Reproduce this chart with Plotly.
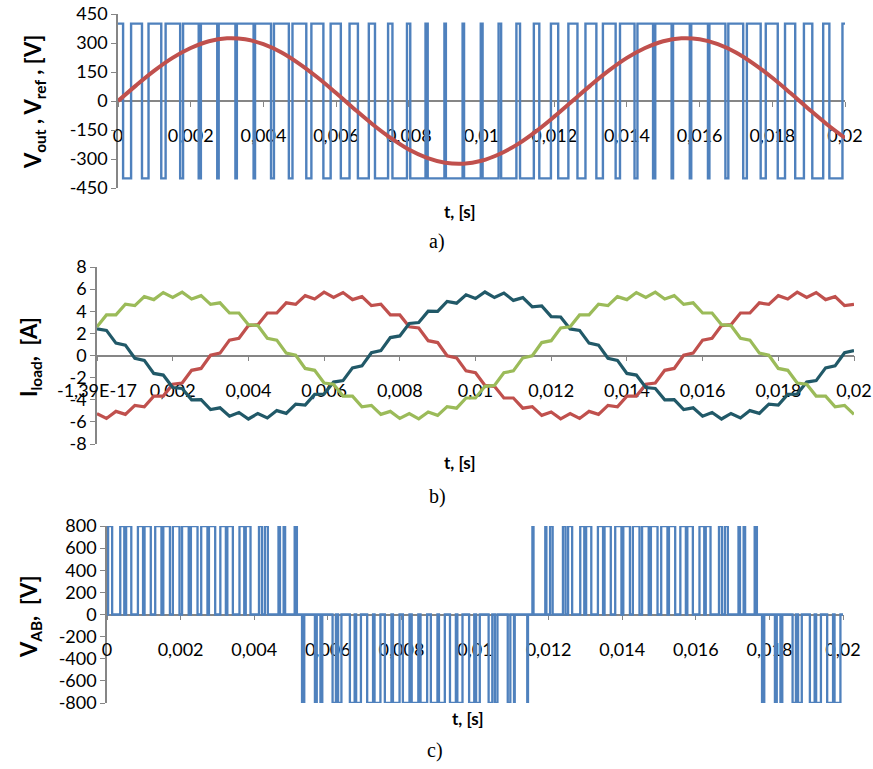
import plotly.graph_objects as go

W, H = 873, 769

# ---------------- data (times in ms) ----------------
x_tick_vals_s = [0, 0.002, 0.004, 0.006, 0.008, 0.01, 0.012, 0.014, 0.016, 0.018, 0.02]
x_tick_text_a = ["0", "0,002", "0,004", "0,006", "0,008", "0,01", "0,012", "0,014", "0,016", "0,018", "0,02"]
x_tick_text_b = ["-1,39E-17", "0,002", "0,004", "0,006", "0,008", "0,01", "0,012", "0,014", "0,016", "0,018", "0,02"]

ya_ticks = [450, 300, 150, 0, -150, -300, -450]
yb_ticks = [8, 6, 4, 2, 0, -2, -4, -6, -8]
yc_ticks = [800, 600, 400, 200, 0, -200, -400, -600, -800]

# (a) reference sine
t_ref_ms = [0, 0.5, 1, 1.5, 2, 2.5, 3, 3.5, 4, 4.5, 5, 5.5, 6, 6.5, 7, 7.5, 8, 8.5, 9, 9.5,
            10, 10.5, 11, 11.5, 12, 12.5, 13, 13.5, 14, 14.5, 15, 15.5, 16, 16.5, 17, 17.5,
            18, 18.5, 19, 19.5, 20]
vref_V = [0, 81, 157, 223, 274, 309, 324, 319, 294, 251, 191, 120, 41, -41, -120, -191, -251,
          -294, -319, -324, -309, -274, -223, -157, -81, 0, 81, 157, 223, 274, 309, 324, 319,
          294, 251, 191, 120, 41, -41, -120, -191]

# (a) PWM output: +400 V except during these low (-400 V) intervals
vout_high = 400
vout_low = -400
vout_low_start_ms = [0.14, 0.66, 1.19, 1.71, 2.22, 2.73, 3.23, 3.73, 4.21, 4.70, 5.18, 5.65, 6.13,
                     6.60, 7.07, 7.55, 8.04, 8.52, 9.02, 9.52, 10.03, 10.54, 11.06, 11.59, 12.11,
                     12.64, 13.16, 13.69, 14.21, 14.72, 15.23, 15.73, 16.23, 16.71, 17.20, 17.68,
                     18.15, 18.63, 19.10, 19.57]
vout_low_end_ms = [0.36, 0.84, 1.31, 1.79, 2.28, 2.77, 3.27, 3.77, 4.29, 4.80, 5.32, 5.85, 6.37,
                   6.90, 7.43, 7.95, 8.46, 8.98, 9.48, 9.98, 10.47, 10.96, 11.44, 11.91, 12.39,
                   12.86, 13.34, 13.81, 14.29, 14.78, 15.27, 15.77, 16.27, 16.79, 17.30, 17.82,
                   18.35, 18.87, 19.40, 19.93]

# (b) load currents
t_cur_ms = [0, 0.25, 0.5, 0.75, 1, 1.25, 1.5, 1.75, 2, 2.25, 2.5, 2.75, 3, 3.25, 3.5, 3.75, 4,
            4.25, 4.5, 4.75, 5, 5.25, 5.5, 5.75, 6, 6.25, 6.5, 6.75, 7, 7.25, 7.5, 7.75, 8, 8.25,
            8.5, 8.75, 9, 9.25, 9.5, 9.75, 10, 10.25, 10.5, 10.75, 11, 11.25, 11.5, 11.75, 12,
            12.25, 12.5, 12.75, 13, 13.25, 13.5, 13.75, 14, 14.25, 14.5, 14.75, 15, 15.25, 15.5,
            15.75, 16, 16.25, 16.5, 16.75, 17, 17.25, 17.5, 17.75, 18, 18.25, 18.5, 18.75, 19,
            19.25, 19.5, 19.75, 20]
i_teal = [2.40, 2.27, 1.12, 0.94, -0.25, -0.44, -1.62, -1.77, -2.90, -2.98,
          -4.01, -3.99, -4.89, -4.73, -5.48, -5.15, -5.74, -5.24, -5.65, -4.98,
          -5.23, -4.39, -4.49, -3.51, -3.48, -2.40, -2.27, -1.12, -0.94, 0.25,
          0.44, 1.62, 1.77, 2.90, 2.98, 4.01, 3.99, 4.89, 4.73, 5.48,
          5.15, 5.74, 5.24, 5.65, 4.98, 5.23, 4.39, 4.49, 3.51, 3.48,
          2.40, 2.27, 1.12, 0.94, -0.25, -0.44, -1.62, -1.77, -2.90, -2.98,
          -4.01, -3.99, -4.89, -4.73, -5.48, -5.15, -5.74, -5.24, -5.65, -4.98,
          -5.23, -4.39, -4.49, -3.51, -3.48, -2.40, -2.27, -1.12, -0.94, 0.25,
          0.44]
i_green = [2.60, 3.67, 3.68, 4.63, 4.51, 5.32, 5.05, 5.69, 5.25, 5.72,
           5.10, 5.41, 4.62, 4.76, 3.84, 3.84, 2.79, 2.70, 1.56, 1.39,
           0.21, 0.02, -1.17, -1.34, -2.49, -2.60, -3.67, -3.68, -4.63, -4.51,
           -5.32, -5.05, -5.69, -5.25, -5.72, -5.10, -5.41, -4.62, -4.76, -3.84,
           -3.84, -2.79, -2.70, -1.56, -1.39, -0.21, -0.02, 1.17, 1.34, 2.49,
           2.60, 3.67, 3.68, 4.63, 4.51, 5.32, 5.05, 5.69, 5.25, 5.72,
           5.10, 5.41, 4.62, 4.76, 3.84, 3.84, 2.79, 2.70, 1.56, 1.39,
           0.21, 0.02, -1.17, -1.34, -2.49, -2.60, -3.67, -3.68, -4.63, -4.51,
           -5.32]
i_red = [-5.25, -5.69, -5.05, -5.32, -4.51, -4.63, -3.68, -3.67, -2.60, -2.49,
         -1.34, -1.17, 0.02, 0.21, 1.39, 1.56, 2.70, 2.79, 3.84, 3.84,
         4.76, 4.62, 5.41, 5.10, 5.72, 5.25, 5.69, 5.05, 5.32, 4.51,
         4.63, 3.68, 3.67, 2.60, 2.49, 1.34, 1.17, -0.02, -0.21, -1.39,
         -1.56, -2.70, -2.79, -3.84, -3.84, -4.76, -4.62, -5.41, -5.10, -5.72,
         -5.25, -5.69, -5.05, -5.32, -4.51, -4.63, -3.68, -3.67, -2.60, -2.49,
         -1.34, -1.17, 0.02, 0.21, 1.39, 1.56, 2.70, 2.79, 3.84, 3.84,
         4.76, 4.62, 5.41, 5.10, 5.72, 5.25, 5.69, 5.05, 5.32, 4.51,
         4.63]

# (c) line-to-line voltage pulses (start, end, level); 0 V elsewhere
vab_start_ms = [0.03, 0.36, 0.52, 0.84, 1.02, 1.31, 1.53, 1.79, 2.04, 2.28, 2.56, 2.77, 3.08, 3.27,
                3.60, 3.77, 4.13, 4.29, 4.66, 4.80, 5.10, 5.30, 5.65, 5.80, 6.13, 6.28, 6.60, 6.77,
                7.07, 7.27, 7.55, 7.77, 8.04, 8.28, 8.52, 8.80, 9.02, 9.32, 9.52, 9.84, 10.03,
                10.37, 10.54, 10.89, 11.06, 11.42, 11.56, 11.91, 12.04, 12.39, 12.53, 12.86,
                13.02, 13.34, 13.52, 13.81, 14.03, 14.29, 14.54, 14.78, 15.06, 15.27, 15.58,
                15.77, 16.10, 16.27, 16.63, 16.79, 17.16, 17.30, 17.60, 17.80, 18.15, 18.30,
                18.63, 18.78, 19.10, 19.27, 19.57, 19.77]
vab_end_ms = [0.14, 0.47, 0.66, 0.98, 1.19, 1.48, 1.71, 1.97, 2.22, 2.46, 2.73, 2.94, 3.23, 3.42,
              3.73, 3.90, 4.21, 4.37, 4.70, 4.84, 5.16, 5.36, 5.70, 5.85, 6.22, 6.37, 6.73, 6.90,
              7.23, 7.43, 7.73, 7.95, 8.22, 8.46, 8.70, 8.98, 9.18, 9.48, 9.66, 9.98, 10.13,
              10.47, 10.61, 10.96, 11.08, 11.44, 11.59, 11.94, 12.11, 12.46, 12.64, 12.97,
              13.16, 13.48, 13.69, 13.98, 14.21, 14.47, 14.72, 14.96, 15.23, 15.44, 15.73,
              15.92, 16.23, 16.40, 16.71, 16.87, 17.20, 17.34, 17.66, 17.86, 18.20, 18.35,
              18.72, 18.88, 19.23, 19.40, 19.73, 19.93]
vab_level_V = [800] * 21 + [-800] * 25 + [800] * 25 + [-800] * 9

T_END_MS = 20

# ---------------- helpers ----------------
def steps(starts, ends, levels, base):
    xs, ys = [0], [base]
    for s, e, lv in zip(starts, ends, levels):
        xs += [s, s, e, e]
        ys += [base, lv, lv, base]
    xs.append(T_END_MS)
    ys.append(base)
    return [v / 1000 for v in xs], ys


def ms(lst):
    return [v / 1000 for v in lst]


def fx(px):
    return px / W


def fy(py):
    return 1 - py / H


BLUE = "#4F81BD"
RED = "#C0504D"
GREEN = "#9BBB59"
TEAL = "#215968"
AXIS = "#868686"
TICKFONT = dict(family="Lato, Open Sans, sans-serif", size=18, color="black")

fig = go.Figure()

# panel (a)
vx, vy = steps(vout_low_start_ms, vout_low_end_ms, [vout_low] * len(vout_low_start_ms), vout_high)
fig.add_trace(go.Scatter(x=vx, y=vy, mode="lines", line=dict(color=BLUE, width=2.4),
                         xaxis="x", yaxis="y", hoverinfo="skip"))
fig.add_trace(go.Scatter(x=ms(t_ref_ms), y=vref_V, mode="lines",
                         line=dict(color=RED, width=4, shape="spline"), xaxis="x", yaxis="y"))

# panel (b)
fig.add_trace(go.Scatter(x=ms(t_cur_ms), y=i_red, mode="lines", line=dict(color=RED, width=3.2),
                         xaxis="x2", yaxis="y2"))
fig.add_trace(go.Scatter(x=ms(t_cur_ms), y=i_teal, mode="lines", line=dict(color=TEAL, width=3.2),
                         xaxis="x2", yaxis="y2"))
fig.add_trace(go.Scatter(x=ms(t_cur_ms), y=i_green, mode="lines", line=dict(color=GREEN, width=3.2),
                         xaxis="x2", yaxis="y2"))

# panel (c)
cx, cy = steps(vab_start_ms, vab_end_ms, vab_level_V, 0)
fig.add_trace(go.Scatter(x=cx, y=cy, mode="lines", line=dict(color=BLUE, width=2.3),
                         xaxis="x3", yaxis="y3", hoverinfo="skip"))

panels = [
    dict(x0=118, x1=845, y0=14, y1=188, yr=(-450, 450), yt=ya_ticks, xt=x_tick_text_a),
    dict(x0=97, x1=854, y0=267, y1=444, yr=(-8, 8), yt=yb_ticks, xt=x_tick_text_b),
    dict(x0=107, x1=843, y0=526, y1=703, yr=(-800, 800), yt=yc_ticks, xt=x_tick_text_a),
]

layout = {}
for i, p in enumerate(panels):
    sfx = "" if i == 0 else str(i + 1)
    y_zero_px = p["y0"] + (p["yr"][1] - 0) / (p["yr"][1] - p["yr"][0]) * (p["y1"] - p["y0"])
    layout["xaxis" + sfx] = dict(
        domain=[fx(p["x0"]), fx(p["x1"])], range=[0, 0.02], anchor="free",
        position=fy(y_zero_px), showline=True, linecolor=AXIS, linewidth=1.5,
        ticks="outside", ticklen=5, tickwidth=1.2, tickcolor=AXIS,
        tickvals=x_tick_vals_s, ticktext=p["xt"], tickfont=TICKFONT, automargin=False,
        ticklabelstandoff=14, showgrid=False, zeroline=False, layer="below traces",
    )
    layout["yaxis" + sfx] = dict(
        domain=[fy(p["y1"]), fy(p["y0"])], range=list(p["yr"]), anchor="x" + sfx,
        showline=True, linecolor=AXIS, linewidth=1.5, ticks="outside", ticklen=5,
        tickwidth=1.2, tickcolor=AXIS, tickvals=p["yt"], ticktext=[str(v) for v in p["yt"]],
        tickfont=TICKFONT, showgrid=False, zeroline=False, layer="below traces", automargin=False,
    )

ann_font_b = dict(family="Lato, Open Sans, sans-serif", size=22, color="black")
ann_t = dict(family="Lato, Open Sans, sans-serif", size=17, color="black")
ser = dict(family="Liberation Serif, Times New Roman, serif", size=20, color="black")
annotations = [
    dict(text="<b>V<sub>out</sub> , V<sub>ref</sub> , [V]</b>", x=fx(34), y=fy(102), textangle=-90, font=ann_font_b),
    dict(text="<b>I<sub>load</sub>,  [A]</b>", x=fx(30), y=fy(357), textangle=-90, font=ann_font_b),
    dict(text="<b>V<sub>AB</sub>,  [V]</b>", x=fx(30), y=fy(617), textangle=-90, font=ann_font_b),
    dict(text="<b>t, [s]</b>", x=fx(460), y=fy(211), font=ann_t),
    dict(text="<b>t, [s]</b>", x=fx(460), y=fy(462), font=ann_t),
    dict(text="<b>t, [s]</b>", x=fx(468), y=fy(718), font=ann_t),
    dict(text="a)", x=fx(437), y=fy(241), font=ser),
    dict(text="b)", x=fx(437), y=fy(496), font=ser),
    dict(text="c)", x=fx(435), y=fy(750), font=ser),
]
for a in annotations:
    a.update(xref="paper", yref="paper", showarrow=False, xanchor="center", yanchor="middle")

fig.update_layout(
    width=W, height=H, margin=dict(l=0, r=0, t=0, b=0, autoexpand=False),
    paper_bgcolor="white", plot_bgcolor="white", showlegend=False,
    annotations=annotations, **layout,
)

fig.write_html("out.html")
